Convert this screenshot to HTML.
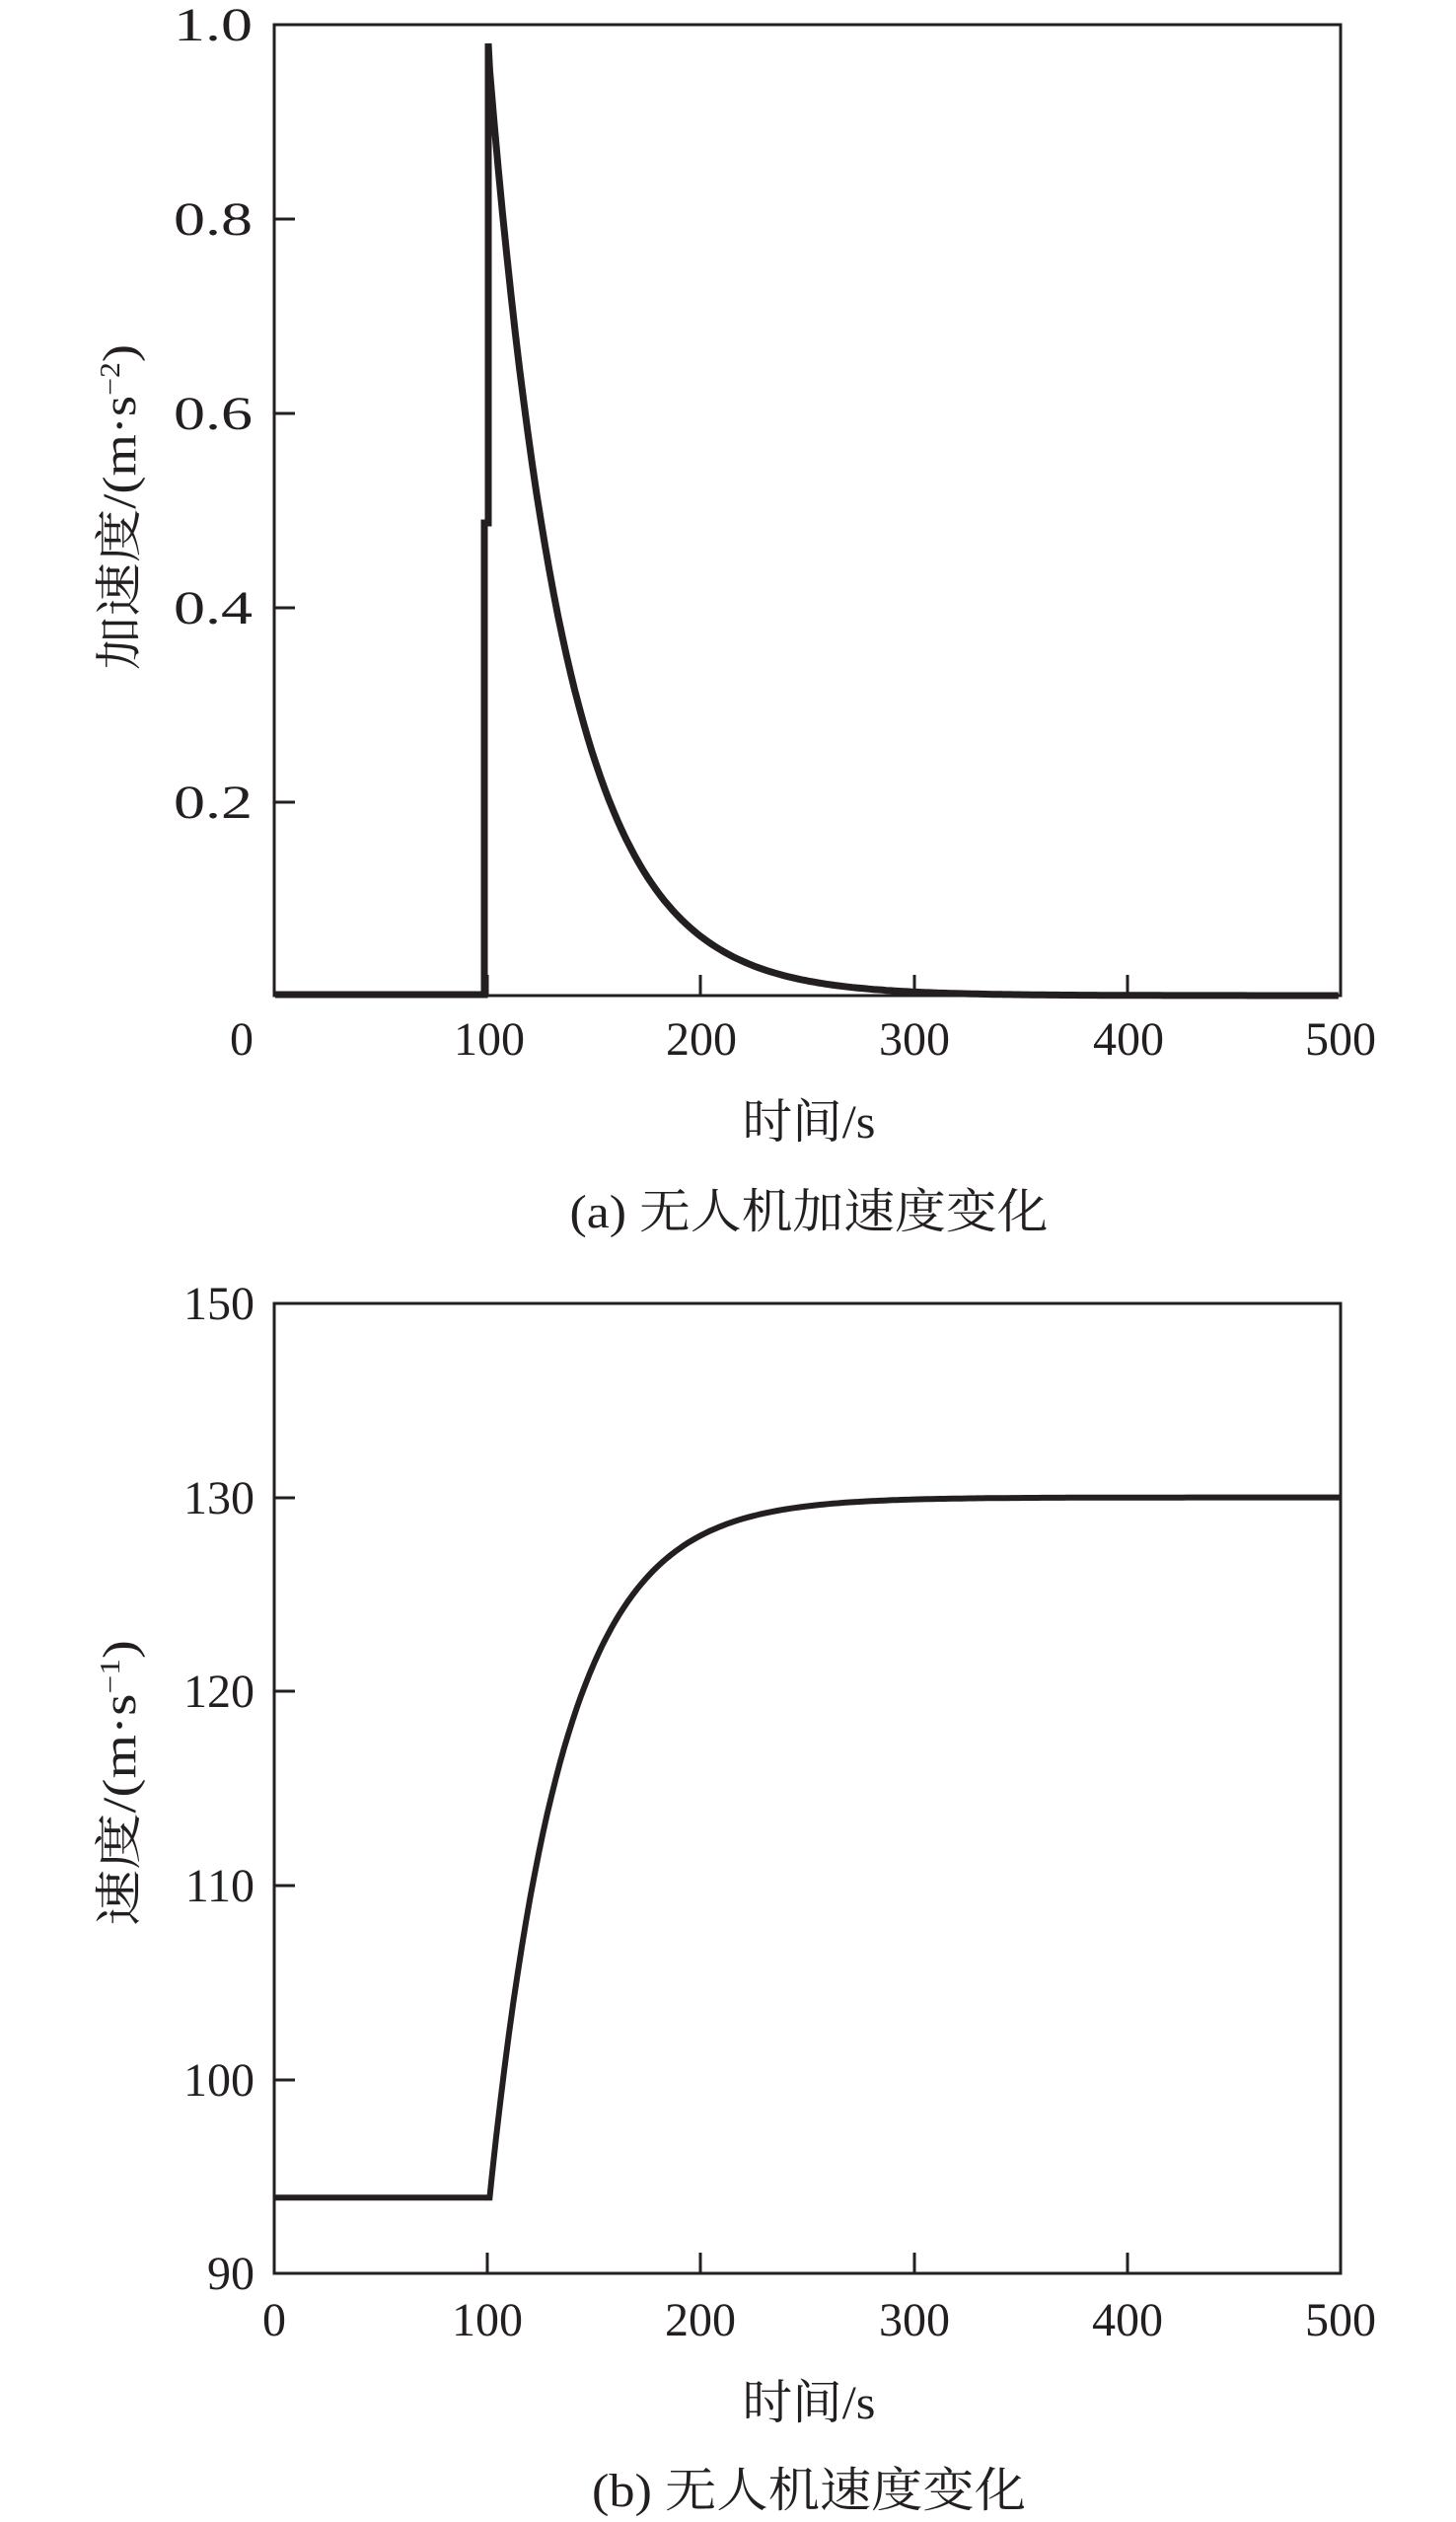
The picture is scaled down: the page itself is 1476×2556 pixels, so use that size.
<!DOCTYPE html>
<html><head><meta charset="utf-8"><style>
html,body{margin:0;padding:0;background:#fff;}
svg{display:block}
text{font-family:"Liberation Serif","Noto Serif CJK SC","Noto Sans CJK SC",serif;fill:#231f20;}
</style></head><body>
<svg id="s" width="1476" height="2556" viewBox="0 0 1476 2556" xmlns="http://www.w3.org/2000/svg">
<g stroke="#231f20" stroke-width="3" fill="none">
<rect x="278" y="25" width="1081" height="984"/>
<rect x="278" y="1321" width="1081" height="983"/>
<path d="M278,222h21M278,419h21M278,616h21M278,813h21M494,1009v-21M710,1009v-21M927,1009v-21M1143,1009v-21"/>
<path d="M278,1518h21M278,1714h21M278,1911h21M278,2108h21M494,2304v-21M710,2304v-21M927,2304v-21M1143,2304v-21"/>
</g>
<path id="pa" fill="none" stroke="#231f20" stroke-width="7" stroke-linejoin="miter"/>
<path id="pb" fill="none" stroke="#231f20" stroke-width="6"/>
<g font-size="48" text-anchor="end">
<text x="256" y="41" textLength="80" lengthAdjust="spacingAndGlyphs">1.0</text>
<text x="256" y="238" textLength="80" lengthAdjust="spacingAndGlyphs">0.8</text>
<text x="256" y="435" textLength="80" lengthAdjust="spacingAndGlyphs">0.6</text>
<text x="256" y="632" textLength="80" lengthAdjust="spacingAndGlyphs">0.4</text>
<text x="256" y="829" textLength="80" lengthAdjust="spacingAndGlyphs">0.2</text>
<text x="258" y="1337">150</text>
<text x="258" y="1534">130</text>
<text x="258" y="1730">120</text>
<text x="258" y="1927">110</text>
<text x="258" y="2124">100</text>
<text x="258" y="2320">90</text>
</g>
<g font-size="48" text-anchor="middle">
<text x="245" y="1069">0</text>
<text x="496" y="1069">100</text>
<text x="711" y="1069">200</text>
<text x="927" y="1069">300</text>
<text x="1144" y="1069">400</text>
<text x="1359" y="1069">500</text>
<text x="278" y="2367">0</text>
<text x="494" y="2367">100</text>
<text x="710" y="2367">200</text>
<text x="927" y="2367">300</text>
<text x="1143" y="2367">400</text>
<text x="1359" y="2367">500</text>
</g>
<g font-size="48" text-anchor="middle">
<text x="820" y="1153" textLength="135" lengthAdjust="spacingAndGlyphs">时间/s</text>
<text x="820" y="1244" textLength="485" lengthAdjust="spacingAndGlyphs">(a) 无人机加速度变化</text>
<text x="820" y="2451" textLength="135" lengthAdjust="spacingAndGlyphs">时间/s</text>
<text x="820" y="2540" textLength="440" lengthAdjust="spacingAndGlyphs">(b) 无人机速度变化</text>
<text transform="translate(137,514) rotate(-90)" textLength="330" lengthAdjust="spacingAndGlyphs">加速度/(m·s<tspan font-size="28" dy="-16">−2</tspan><tspan dy="16">)</tspan></text>
<text transform="translate(137,1807) rotate(-90)" textLength="290" lengthAdjust="spacingAndGlyphs">速度/(m·s<tspan font-size="28" dy="-16">−1</tspan><tspan dy="16">)</tspan></text>
</g>
</svg>
<script>
var X=function(t){return 278+t*2.162};
var d="M279,1008 L491,1008 L491,530 L495,530 L495,44";
for(var t=101;t<=500;t+=2){var a=0.98*Math.exp(-(t-100)/36);d+=" L"+X(t).toFixed(1)+","+(1009-a*984).toFixed(1);}
document.getElementById("pa").setAttribute("d",d);
var Y=function(v){return 2304-(v-90)*19.66};
var e="M279,"+Y(93.9).toFixed(1)+" L"+X(101).toFixed(1)+","+Y(93.9).toFixed(1);
for(var t=102;t<=500;t+=2){var v=130-36.1*Math.exp(-(t-101)/34);e+=" L"+X(t).toFixed(1)+","+Y(v).toFixed(1);}
document.getElementById("pb").setAttribute("d",e);
</script>
</body></html>
